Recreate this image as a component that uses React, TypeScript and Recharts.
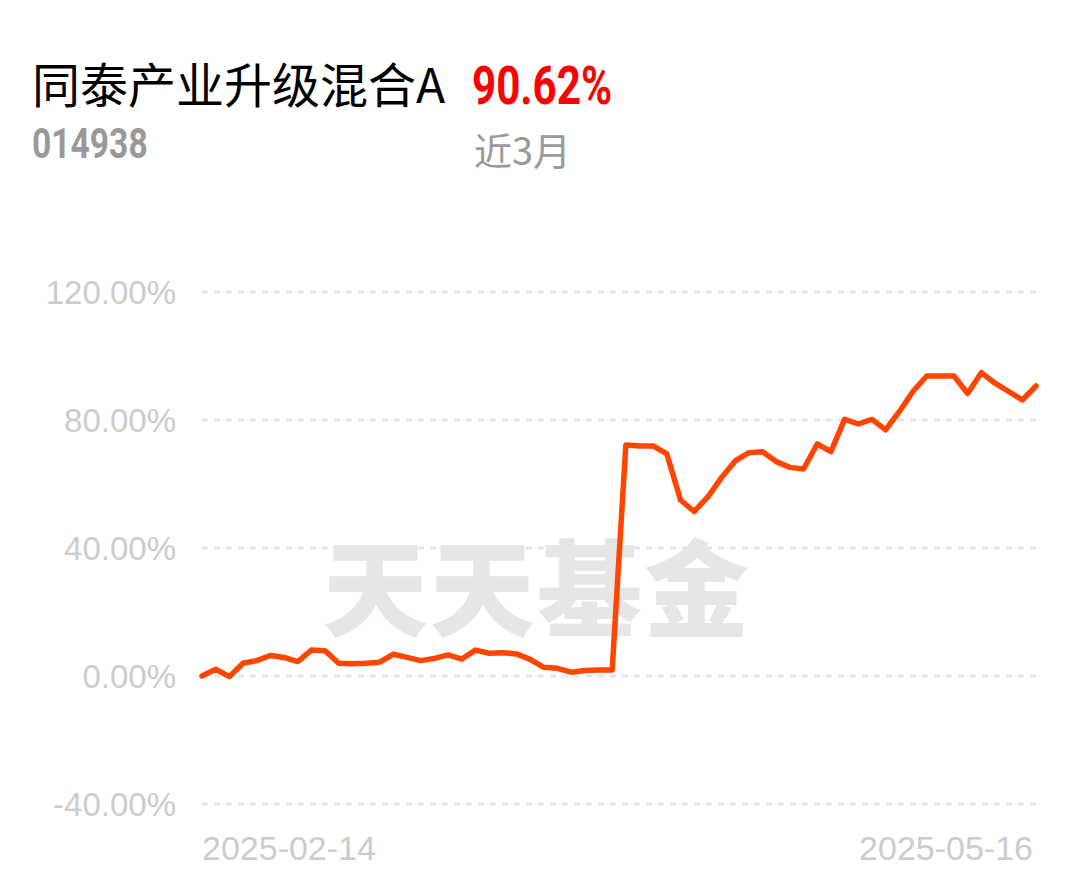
import React from "react";
import { LineChart, Line, XAxis, YAxis, CartesianGrid } from "recharts";

const dates = [
  "2025-02-14", "2025-02-17", "2025-02-18", "2025-02-19", "2025-02-20", "2025-02-21",
  "2025-02-24", "2025-02-25", "2025-02-26", "2025-02-27", "2025-02-28",
  "2025-03-03", "2025-03-04", "2025-03-05", "2025-03-06", "2025-03-07",
  "2025-03-10", "2025-03-11", "2025-03-12", "2025-03-13", "2025-03-14",
  "2025-03-17", "2025-03-18", "2025-03-19", "2025-03-20", "2025-03-21",
  "2025-03-24", "2025-03-25", "2025-03-26", "2025-03-27", "2025-03-28",
  "2025-03-31", "2025-04-01", "2025-04-02", "2025-04-03",
  "2025-04-07", "2025-04-08", "2025-04-09", "2025-04-10", "2025-04-11",
  "2025-04-14", "2025-04-15", "2025-04-16", "2025-04-17", "2025-04-18",
  "2025-04-21", "2025-04-22", "2025-04-23", "2025-04-24", "2025-04-25",
  "2025-04-28", "2025-04-29", "2025-04-30",
  "2025-05-06", "2025-05-07", "2025-05-08", "2025-05-09",
  "2025-05-12", "2025-05-13", "2025-05-14", "2025-05-15", "2025-05-16",
];

// cumulative return, %
const returns = [
  0.0, 2.1, -0.2, 4.0, 4.8, 6.4, 5.8, 4.5, 8.1, 7.9, 4.0,
  3.8, 4.0, 4.3, 6.8, 5.8, 4.8, 5.5, 6.6, 5.3, 8.1,
  7.1, 7.3, 6.9, 5.2, 2.7, 2.4, 1.2, 1.7, 1.9, 1.9,
  72.2, 71.9, 71.9, 69.4, 55.0, 51.4, 56.0, 62.0, 67.2, 69.8,
  70.1, 67.0, 65.2, 64.7, 72.5, 70.1, 80.2, 78.75, 80.2, 76.9,
  82.6, 88.9, 93.75, 93.75, 93.75, 88.3, 94.8, 91.5, 88.9, 86.25, 90.62,
];

const yTicks = [-40, 0, 40, 80, 120];
const xTicks = [dates[0], dates[dates.length - 1]];

const data = dates.map((d, i) => ({ date: d, value: returns[i] }));

const AXIS_FONT = "'Liberation Sans', Arial, sans-serif";
const CJK_FONT = "'Noto Sans CJK SC', 'Noto Sans', sans-serif";

const DateTick = (props: any) => {
  const { x, y, payload } = props;
  const first = payload.value === dates[0];
  return (
    <text
      x={first ? x : x - 3}
      y={y + 54}
      textAnchor={first ? "start" : "end"}
      fill="#cccccc"
      fontSize={34}
      fontFamily={AXIS_FONT}
    >
      {payload.value}
    </text>
  );
};

export default function App() {
  return (
    <div
      style={{
        position: "absolute",
        left: 0,
        top: 0,
        width: 1080,
        height: 881,
        background: "#fff",
        overflow: "hidden",
      }}
    >
      <div style={{ position: "absolute", left: 32, top: 58, fontFamily: CJK_FONT, fontSize: 48, lineHeight: 1, color: "#000" }}>
        同泰产业升级混合A
      </div>
      <div
        style={{
          position: "absolute",
          left: 472,
          top: 59,
          fontFamily: "Roboto, sans-serif",
          fontWeight: 700,
          fontSize: 54,
          lineHeight: 1,
          color: "#ff0000",
          transform: "scaleX(0.78)",
          transformOrigin: "left top",
        }}
      >
        90.62%
      </div>
      <div
        style={{
          position: "absolute",
          left: 32,
          top: 123,
          fontFamily: "Roboto, sans-serif",
          fontWeight: 700,
          fontSize: 42,
          lineHeight: 1,
          color: "#999",
          transform: "scaleX(0.8)",
          transformOrigin: "left top",
        }}
      >
        014938
      </div>
      <div style={{ position: "absolute", left: 474, top: 130, fontFamily: CJK_FONT, fontSize: 38, lineHeight: 1, color: "#9a9a9a" }}>
        近3月
      </div>
      <div
        style={{
          position: "absolute",
          left: 323,
          top: 530,
          fontFamily: CJK_FONT,
          fontWeight: 900,
          fontSize: 105,
          lineHeight: 1,
          color: "#e6e6e6",
          letterSpacing: 2,
        }}
      >
        天天基金
      </div>
      <div style={{ position: "absolute", left: 0, top: 0 }}>
        <LineChart width={1080} height={881} data={data} margin={{ top: 292, right: 44, bottom: 17, left: 0 }}>
          <CartesianGrid horizontal vertical={false} stroke="#e6e6e6" strokeWidth={3} strokeDasharray="6 6" />
          <XAxis
            dataKey="date"
            ticks={xTicks}
            interval={0}
            axisLine={false}
            tickLine={false}
            tickSize={0}
            height={60}
            tick={<DateTick />}
          />
          <YAxis
            domain={[-40, 120]}
            ticks={yTicks}
            width={202}
            axisLine={false}
            tickLine={false}
            tickSize={0}
            tickMargin={26}
            tickFormatter={(v: number) => `${v.toFixed(2)}%`}
            tick={{ fill: "#cccccc", fontSize: 33, fontFamily: AXIS_FONT }}
          />
          <Line
            type="linear"
            dataKey="value"
            stroke="#ff4500"
            strokeWidth={5.5}
            dot={false}
            strokeLinejoin="round"
            strokeLinecap="round"
            isAnimationActive={false}
          />
        </LineChart>
      </div>
    </div>
  );
}
